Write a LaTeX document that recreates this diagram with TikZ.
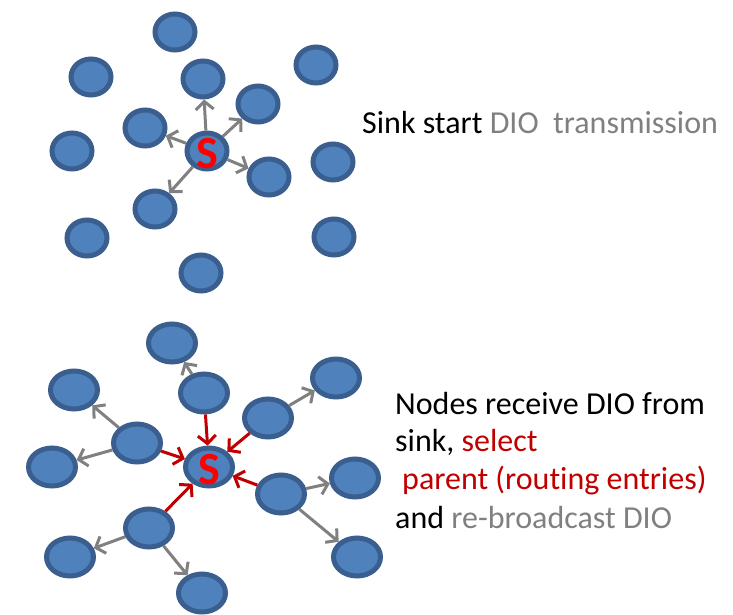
\documentclass[tikz,border=0pt]{standalone}
\usepackage{fontspec}
\setmainfont[Ligatures=NoCommon]{Carlito}
\usetikzlibrary{arrows.meta,shapes.geometric}
\definecolor{nodefill}{HTML}{4F81BD}
\definecolor{nodeline}{HTML}{3A5F8F}
\definecolor{arrgray}{HTML}{808080}
\definecolor{darkred}{HTML}{C00000}
\definecolor{txtgray}{HTML}{808080}
\begin{document}
\begin{tikzpicture}[x=1pt,y=-1pt,
  nd/.style={ellipse,fill=nodefill,draw=nodeline,line width=5pt,minimum width=40pt,minimum height=36pt,inner sep=0pt},
  ndb/.style={nd,minimum width=47pt,minimum height=38pt},
  stxt/.style={font=\fontsize{46}{46}\selectfont\bfseries,text=red},
  garr/.style={draw=arrgray,line width=3pt,-{Straight Barb[length=8pt,width=18pt,line width=3pt]}},
  rarr/.style={draw=darkred,line width=3pt,-{Straight Barb[length=8pt,width=18pt,line width=3pt]}},
  lbl/.style={anchor=base west,inner sep=0pt,font=\fontsize{32}{32}\selectfont}]
\useasboundingbox (0,0) rectangle (733,615);
% top cluster
\node[nd] (t1) at (175,32) {};
\node[nd] (t2) at (91,77) {};
\node[nd] (t3) at (203,79) {};
\node[nd] (t4) at (316,65) {};
\node[nd] (t5) at (258,104) {};
\node[nd] (t6) at (145,128) {};
\node[nd] (t7) at (72,151) {};
\node[nd] (ts) at (207,151) {};
\node[stxt,inner sep=0pt] (tsl) at (207,154) {S};
\node[nd] (t9) at (333,162) {};
\node[nd] (t10) at (269,177) {};
\node[nd] (t11) at (155,209) {};
\node[nd] (t12) at (87,238) {};
\node[nd] (t13) at (334,237) {};
\node[nd] (t14) at (201,273) {};
\draw[garr] (ts) -- (t3);
\draw[garr] (ts) -- (t5);
\draw[garr] (ts) -- (t10);
\draw[garr] (ts) -- (t11);
\draw[garr] (ts) -- (t6);
% bottom cluster
\node[ndb] (ba) at (172,343) {};
\node[ndb] (bb) at (74,390) {};
\node[ndb] (bc) at (204,393) {};
\node[ndb] (bd) at (336,378) {};
\node[ndb] (be) at (268,418) {};
\node[ndb] (bf) at (137,443) {};
\node[ndb] (bg) at (52,467) {};
\node[ndb] (bs) at (209,467) {};
\node[stxt,inner sep=0pt] (bsl) at (209,470) {S};
\node[ndb] (bi) at (355,478) {};
\node[ndb] (bj) at (281,494) {};
\node[ndb] (bk) at (149,528) {};
\node[ndb] (bl) at (70,557) {};
\node[ndb] (bm) at (357,557) {};
\node[ndb] (bn) at (202,593) {};
\draw[rarr] (bc) -- (bs);
\draw[rarr] (be) -- (bs);
\draw[rarr] (bf) -- (bs);
\draw[rarr] (bj) -- (bs);
\draw[rarr] (bk) -- (bs);
\draw[garr] (bc) -- (ba);
\draw[garr] (bf) -- (bb);
\draw[garr] (bf) -- (bg);
\draw[garr] (be) -- (bd);
\draw[garr] (bj) -- (bi);
\draw[garr] (bj) -- (bm);
\draw[garr] (bk) -- (bl);
\draw[garr] (bk) -- (bn);
% texts
\node[lbl] (l1) at (362,133) {Sink start \textcolor{txtgray}{DIO\ \ transmission}};
\node[lbl] (l2) at (395,414) {Nodes receive DIO from};
\node[lbl] (l3) at (395,451) {sink, \textcolor{darkred}{select}};
\node[lbl] (l4) at (402,489) {\textcolor{darkred}{parent (routing entries)}};
\node[lbl] (l5) at (395,528) {and \textcolor{txtgray}{re-broadcast DIO}};
\end{tikzpicture}
\end{document}
